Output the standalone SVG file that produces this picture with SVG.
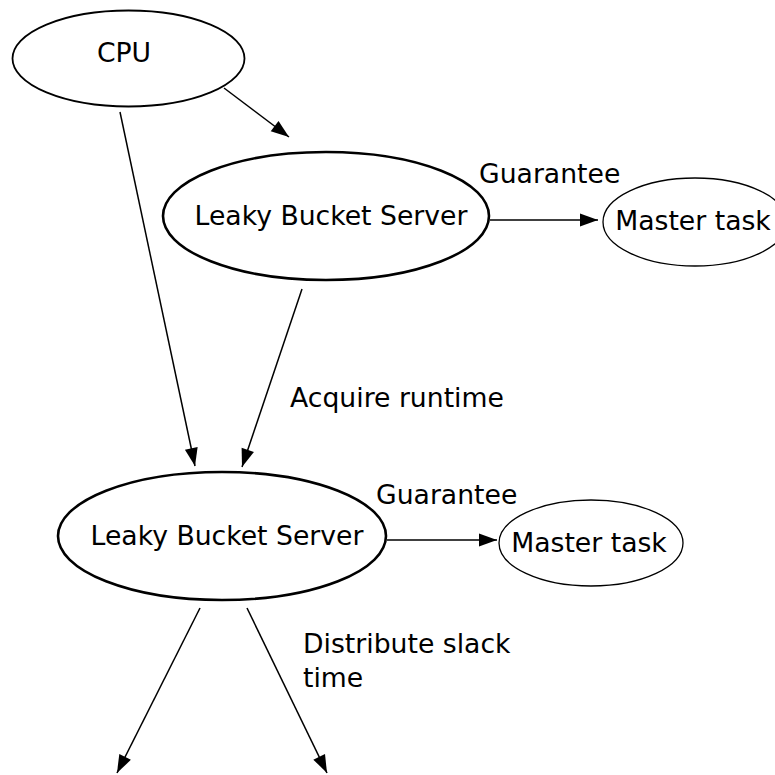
<svg xmlns="http://www.w3.org/2000/svg" width="775" height="775" viewBox="0 0 775 775">
<defs>
<marker id="arr" markerUnits="userSpaceOnUse" markerWidth="20" markerHeight="14" refX="18" refY="6.5" orient="auto" overflow="visible">
<path d="M0,0 L18,6.5 L0,13 Z" fill="#000"/>
</marker>
<style>
text{font-family:"DejaVu Sans","Liberation Sans",sans-serif;font-size:26.67px;fill:#000}
.n{fill:#fff;stroke:#000}
.c{stroke:#000;stroke-width:1.5;fill:none;marker-end:url(#arr)}
.cl{stroke:#000;stroke-width:1.5;fill:none}
</style>
</defs>
<rect width="775" height="775" fill="#fff"/>
<g id="connectors">
<line class="c" x1="224" y1="88" x2="289" y2="137"/>
<line class="c" x1="120" y1="112" x2="195" y2="466"/>
<line class="c" x1="490" y1="220" x2="598" y2="220"/>
<line class="c" x1="302" y1="289" x2="242" y2="467"/>
<line class="c" x1="387" y1="540" x2="497" y2="540"/>
<line class="c" x1="200" y1="608" x2="117" y2="773"/>
<line class="c" x1="247" y1="608" x2="327" y2="773"/>
<text x="479" y="183">Guarantee</text>
<text x="290" y="407">Acquire runtime</text>
<text x="376" y="504">Guarantee</text>
<text x="303" y="653">Distribute slack</text>
<text x="303" y="687">time</text>
</g>
<g id="cpu">
<ellipse class="n" cx="128.5" cy="58.5" rx="116" ry="48" stroke-width="1.8"/>
<text x="124" y="62" text-anchor="middle">CPU</text>
</g>
<g id="lbs1">
<ellipse class="n" cx="326" cy="216" rx="163" ry="64" stroke-width="2.6"/>
<text x="331" y="225" text-anchor="middle">Leaky Bucket Server</text>
</g>
<g id="mt1">
<ellipse class="n" cx="695" cy="222" rx="92" ry="44" stroke-width="1.3"/>
<text x="693" y="230" text-anchor="middle">Master task</text>
</g>
<g id="lbs2">
<ellipse class="n" cx="222" cy="536" rx="164" ry="64" stroke-width="2.6"/>
<text x="227" y="545" text-anchor="middle">Leaky Bucket Server</text>
</g>
<g id="mt2">
<ellipse class="n" cx="591" cy="543" rx="92" ry="43" stroke-width="1.3"/>
<text x="589" y="552" text-anchor="middle">Master task</text>
</g>
</svg>
